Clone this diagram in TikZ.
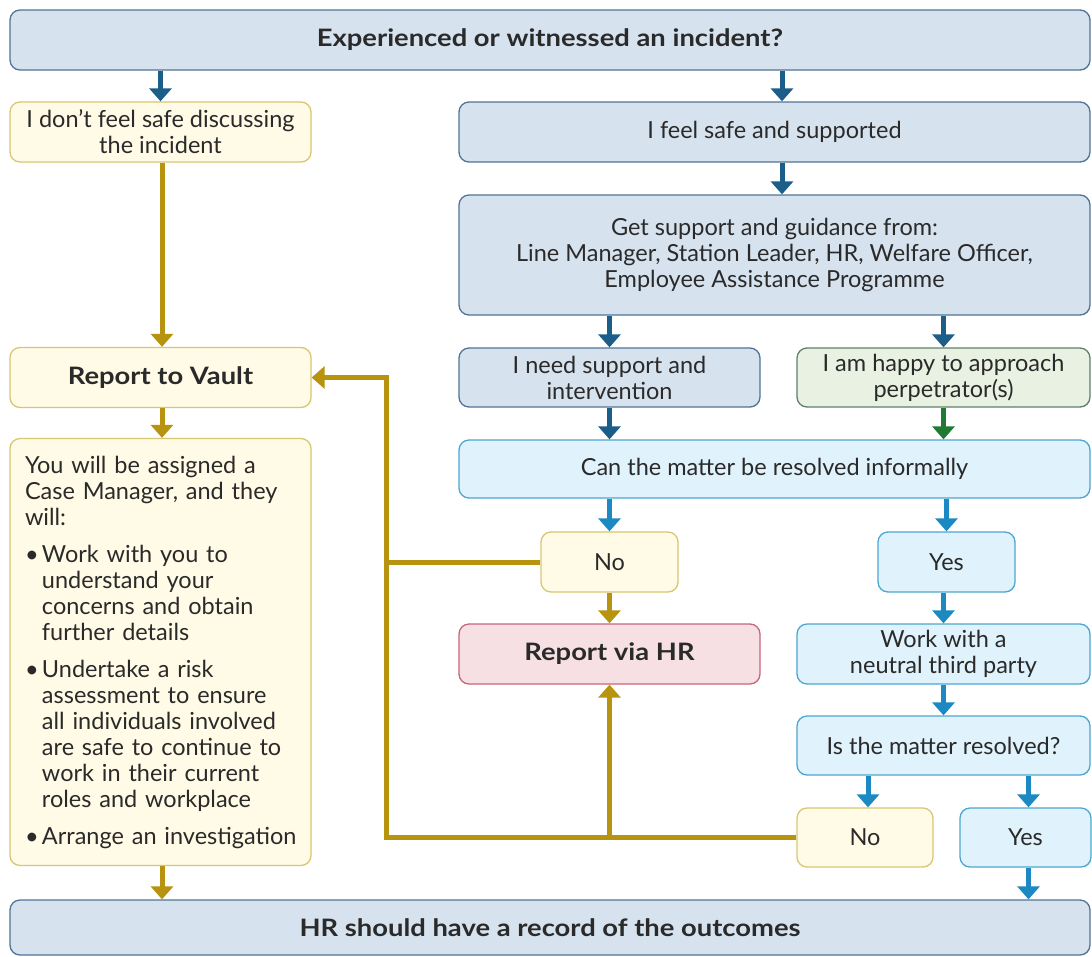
\documentclass[tikz,border=0pt]{standalone}
\usepackage{fontspec}
\setmainfont{Lato}
\newfontfamily\headfont{Lato}[FakeStretch=1.14]
\usetikzlibrary{arrows.meta}
\definecolor{txtgray}{HTML}{2A2A2A}
\definecolor{bluefill}{HTML}{D6E2EE}
\definecolor{blueline}{HTML}{4F7497}
\definecolor{yelfill}{HTML}{FFFBE6}
\definecolor{yelline}{HTML}{D9C670}
\definecolor{grnfill}{HTML}{E9F1E2}
\definecolor{grnline}{HTML}{607F6C}
\definecolor{skyfill}{HTML}{E0F2FB}
\definecolor{skyline}{HTML}{4CA6D2}
\definecolor{redfill}{HTML}{F7E0E4}
\definecolor{redline}{HTML}{C8647E}
\definecolor{darkarr}{HTML}{1B5E8A}
\definecolor{skyarr}{HTML}{1C89C2}
\definecolor{grnarr}{HTML}{1F7A33}
\definecolor{goldarr}{HTML}{B8930F}
\newcommand{\casebul}{\makebox[17pt][l]{\textbullet}}
\newcommand{\caseind}{\hspace*{17pt}}

\begin{document}
\begin{tikzpicture}[x=1pt,y=-1pt,
  box/.style={rounded corners=10pt,line width=1.3pt,align=center,text=txtgray,inner sep=0pt,
    font=\fontsize{23.5}{26}\selectfont},
  bold/.style={font=\fontsize{24}{26}\selectfont\headfont\bfseries},
  bluebox/.style={box,fill=bluefill,draw=blueline},
  yelbox/.style={box,fill=yelfill,draw=yelline},
  grnbox/.style={box,fill=grnfill,draw=grnline},
  skybox/.style={box,fill=skyfill,draw=skyline},
  redbox/.style={box,fill=redfill,draw=redline},
  wide/.style={minimum width=301,minimum height=60},
  small/.style={minimum width=137,minimum height=60},
  arr/.style={line width=5pt,-{Triangle[width=22pt,length=13pt]}},
  goldline/.style={line width=5pt,draw=goldarr,line join=miter}]
\useasboundingbox (0,0) rectangle (1092,956);
\fill[white] (0,0) rectangle (1092,956);

% top and bottom
\node[bluebox,bold,minimum width=1080,minimum height=60] (top) at (550,40) {Experienced or witnessed an incident?};
\node[bluebox,bold,minimum width=1080,minimum height=55] (record) at (550,927.5) {HR should have a record of the outcomes};

% left column
\node[yelbox,wide] (nosafe) at (160.5,132) {I don't feel safe discussing\\the incident};
\node[yelbox,wide,bold] (vault) at (160.5,377.5) {Report to Vault};
\node[yelbox,minimum width=301,minimum height=427,text width=285,align=left] (case) at (160.5,652) {\leftskip=7pt\relax\hyphenpenalty=10000\relax
You will be assigned a\\Case Manager, and they\\will:\\[11pt]
\casebul Work with you to\\\caseind understand your\\\caseind concerns and obtain\\\caseind further details\\[11pt]
\casebul Undertake a risk\\\caseind assessment to ensure\\\caseind all individuals involved\\\caseind are safe to continue to\\\caseind work in their current\\\caseind roles and workplace\\[11pt]
\casebul Arrange an investigation\par};

% right columns
\node[bluebox,minimum width=631,minimum height=60] (safe) at (774.5,132) {I feel safe and supported};
\node[bluebox,minimum width=631,minimum height=120] (guide) at (774.5,255) {Get support and guidance from:\\Line Manager, Station Leader, HR, Welfare Officer,\\Employee Assistance Programme};
\node[bluebox,wide,minimum height=59] (need) at (609.5,377.5) {I need support and\\intervention};
\node[grnbox,minimum width=293,minimum height=59] (happy) at (943.5,377.5) {I am happy to approach\\perpetrator(s)};
\node[skybox,minimum width=631,minimum height=58] (informal) at (774.5,469) {Can the matter be resolved informally};
\node[yelbox,small] (no1) at (609.5,562) {No};
\node[skybox,small] (yes1) at (946.5,562) {Yes};
\node[redbox,wide,bold] (viahr) at (609.5,654) {Report via HR};
\node[skybox,minimum width=293,minimum height=60] (third) at (943.5,654) {Work with a\\neutral third party};
\node[skybox,minimum width=293,minimum height=59] (resolved) at (943.5,745.5) {Is the matter resolved?};
\node[yelbox,minimum width=136,minimum height=59] (no2) at (865,837.5) {No};
\node[skybox,minimum width=131,minimum height=59] (yes2) at (1025.5,837.5) {Yes};

\coordinate (jtop) at (386,377.5);
\coordinate (jbot) at (386,837.5);

% blue arrows
\draw[arr,darkarr] (top.south -| nosafe.north) -- (nosafe.north);
\draw[arr,darkarr] ([xshift=7.5pt]top.south -| safe.north) -- ([xshift=7.5pt]safe.north);
\draw[arr,darkarr] ([xshift=7.5pt]safe.south) -- ([xshift=7.5pt]guide.north);
\draw[arr,darkarr] (guide.south -| need.north) -- (need.north);
\draw[arr,darkarr] (guide.south -| happy.north) -- (happy.north);
\draw[arr,darkarr] (need.south) -- (need.south |- informal.north);
\draw[arr,grnarr] (happy.south) -- (happy.south |- informal.north);
\draw[arr,skyarr] (informal.south -| no1.north) -- (no1.north);
\draw[arr,skyarr] (informal.south -| yes1.north) -- (yes1.north);
\draw[arr,skyarr] (yes1.south -| third.north) -- (third.north);
\draw[arr,skyarr] (third.south) -- (resolved.north);
\draw[arr,skyarr] ([xshift=3pt]resolved.south -| no2.north) -- ([xshift=3pt]no2.north);
\draw[arr,skyarr] ([xshift=3pt]resolved.south -| yes2.north) -- ([xshift=3pt]yes2.north);
\draw[arr,skyarr] ([xshift=3pt]yes2.south) -- ([xshift=3pt]yes2.south |- record.north);

% gold arrows
\draw[arr,goldarr] ([xshift=1.5pt]nosafe.south) -- ([xshift=1.5pt]vault.north);
\draw[arr,goldarr] ([xshift=1.5pt]vault.south) -- ([xshift=1.5pt]case.north);
\draw[arr,goldarr] ([xshift=1.5pt]case.south) -- ([xshift=1.5pt]case.south |- record.north);
\draw[arr,goldarr] (no1.south) -- (viahr.north);
\draw[goldline] (no1.west) -- (no1.west -| jtop);
\draw[goldline,arr] (no2.west) -- (jbot) -- (jtop) -- (vault.east);
\draw[goldline,arr] (viahr.south |- no2.west) -- (viahr.south);

\end{tikzpicture}
\end{document}
